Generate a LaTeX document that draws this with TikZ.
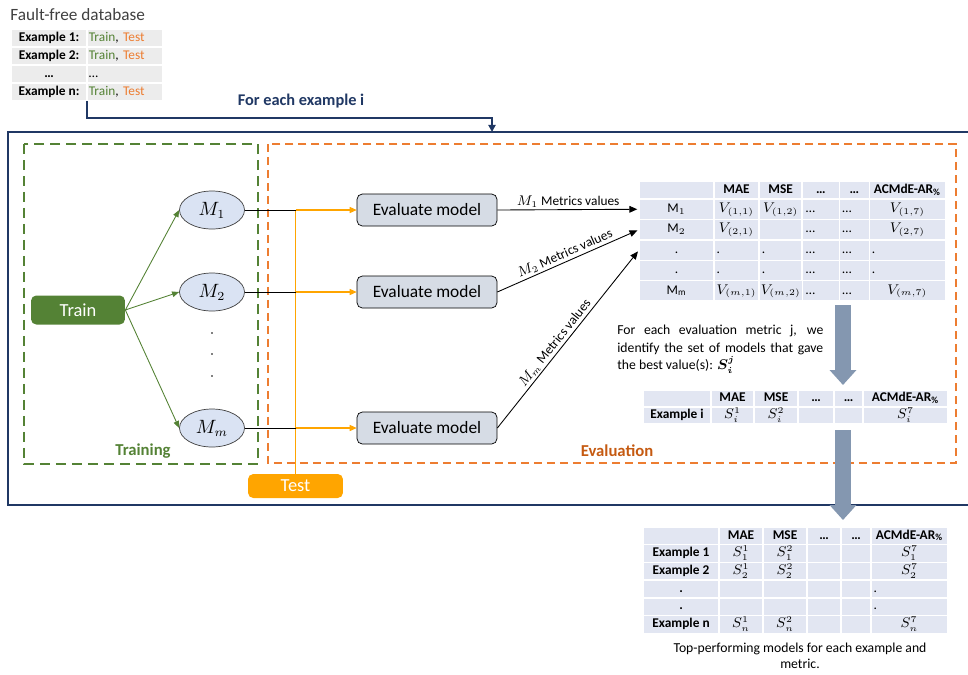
\documentclass[tikz,border=0pt]{standalone}
\usepackage{amsmath}
\usepackage{fontspec}
\setmainfont{Carlito}
\usetikzlibrary{arrows.meta,positioning,shapes.geometric,matrix}

\definecolor{loopnavy}{HTML}{203864}
\definecolor{trgreen}{HTML}{548235}
\definecolor{tsorange}{HTML}{ED7D31}
\definecolor{evalorange}{HTML}{C55A11}
\definecolor{testfill}{HTML}{FFA500}
\definecolor{modelfill}{HTML}{DAE3F3}
\definecolor{evalfill}{HTML}{D6DCE5}
\definecolor{tabfill}{HTML}{E2E6F2}
\definecolor{dbfill}{HTML}{ECECEC}
\definecolor{bigarrowc}{HTML}{8497B0}
\definecolor{darktext}{HTML}{404040}

\newcommand{\tabfont}{\fontsize{7.6}{7}\selectfont}
\newcommand{\tabbold}{\fontsize{7.6}{7}\selectfont\bfseries}

\tikzset{
  dbtitle/.style={anchor=west,inner sep=0pt,text=darktext,font=\fontsize{9.8}{12}\selectfont},
  looplabel/.style={text=loopnavy,font=\fontsize{9.3}{11}\selectfont\bfseries},
  loopArrow/.style={loopnavy,line width=1.1pt,-{Triangle[length=4pt,width=4pt]}},
  loopbox/.style={loopnavy,line width=1.1pt},
  trainzone/.style={trgreen,line width=1.5pt,dash pattern=on 0.2cm off 0.12cm},
  evalzone/.style={tsorange,line width=1.1pt,dash pattern=on 0.16cm off 0.1cm},
  zonelabel/.style={font=\fontsize{9.5}{11}\selectfont\bfseries},
  model/.style={ellipse,draw=darktext,fill=modelfill,minimum width=1.3cm,minimum height=0.76cm,inner sep=0pt,font=\fontsize{10.5}{12}\selectfont},
  evalbox/.style={draw,rounded corners=3pt,fill=evalfill,minimum width=2.8cm,minimum height=0.64cm,inner sep=0pt,font=\fontsize{9.9}{11}\selectfont},
  trainbox/.style={rounded corners=3pt,fill=trgreen,text=white,minimum width=1.88cm,minimum height=0.58cm,font=\fontsize{10.5}{12}\selectfont},
  testbox/.style={rounded corners=3pt,fill=testfill,text=white,minimum width=1.9cm,minimum height=0.48cm,font=\fontsize{10.5}{12}\selectfont},
  trainArrow/.style={trgreen,line width=0.5pt,-{Triangle[length=4pt,width=3.2pt]}},
  modelLine/.style={line width=0.45pt},
  testLine/.style={testfill,line width=0.6pt},
  testArrow/.style={testLine,-{Triangle[length=4pt,width=3.5pt]}},
  metricArrow/.style={line width=0.5pt,-{Triangle[length=4.5pt,width=3.8pt]},shorten >=1pt},
  metricLabel/.style={font=\tabfont,inner sep=1pt},
  bigArrow/.style={bigarrowc,line width=0.32cm,-{Triangle[length=0.3cm,width=0.52cm]}},
  tab/.style={matrix of nodes,nodes in empty cells,anchor=north west,inner sep=0pt,column sep=-0.8pt,row sep=-0.8pt,
    nodes={fill=tabfill,draw=white,line width=0.8pt,inner xsep=1pt,inner ysep=0.5pt,outer sep=0pt,
      text height=5.3pt,text depth=1.6pt,font=\tabfont}},
  dotl/.style={text width=#1,align=left},
  noteText/.style={anchor=north west,inner sep=0pt,text width=4.12cm,align=justify,font=\fontsize{7.8}{9.8}\selectfont},
  captionText/.style={align=center,font=\fontsize{7.8}{9}\selectfont}
}

\begin{document}
\begin{tikzpicture}[x=0.02cm,y=-0.02cm]
  \useasboundingbox (0,0) rectangle (968,674);

  \node[dbtitle] (dbname) at (10,15) {Fault-free database};
  \matrix[tab,nodes={fill=dbfill,minimum height=0.36cm},
    column 1/.style={nodes={minimum width=1.52cm,font=\tabbold}},
    column 2/.style={nodes={text width=1.45cm,align=left}}] (db) at (10,28) {
    Example 1: & \textcolor{trgreen}{Train}, \textcolor{tsorange}{Test} \\
    Example 2: & \textcolor{trgreen}{Train}, \textcolor{tsorange}{Test} \\
    \dots & \dots \\
    Example n: & \textcolor{trgreen}{Train}, \textcolor{tsorange}{Test} \\
  };

  \coordinate (loopin) at (492,132);
  \draw[loopArrow] (db-4-1.south east) -- ++(0,17) -| (loopin);
  \node[looplabel] (looptext) at (301,101) {For each example i};
  \draw[loopbox] (968,132) -- (8,132) -- (8,505) -- (968,505);

  \draw[trainzone] (24,144) rectangle (258,464);
  \draw[evalzone] (268,144) rectangle (956,463);
  \node[zonelabel,text=trgreen] (trainname) at (143,451) {Training};
  \node[zonelabel,text=evalorange] (evalname) at (617,451) {Evaluation};

  \node[trainbox] (train) at (78,310) {Train};
  \node[model] (m1) at (212,210) {$M_1$};
  \node[model] (m2) at (212,292) {$M_2$};
  \node[model] (mm) at (212,428) {$M_m$};
  \foreach \y in {333,354,376} \fill (212,\y) circle (0.55pt);
  \node[testbox] (test) at (295.5,486) {Test};
  \node[evalbox] (ev1) at (427,210) {Evaluate model};
  \node[evalbox] (ev2) at (427,292) {Evaluate model};
  \node[evalbox] (evm) at (427,428) {Evaluate model};

  \foreach \m in {m1,m2,mm} \draw[trainArrow] (train.east) -- (\m.west);
  \draw[testLine] (test.north) -- (test.north |- m1);
  \foreach \m/\e in {m1/ev1,m2/ev2,mm/evm}{
    \draw[modelLine] (\m.east) -- (\m -| test.north);
    \draw[testArrow] (\m -| test.north) -- (\e.west);
  }

  \matrix[tab,nodes={minimum height=0.408cm},
    row 1/.style={nodes={minimum height=0.36cm,font=\tabbold}},
    column 1/.style={nodes={minimum width=1.5cm}},
    column 2/.style={nodes={minimum width=0.9cm}},
    column 3/.style={nodes={minimum width=0.84cm}},
    column 4/.style={nodes={minimum width=0.74cm}},
    column 5/.style={nodes={minimum width=0.6cm}},
    column 6/.style={nodes={minimum width=1.52cm}}] (vals) at (638,180) {
     & MAE & MSE & \dots & \dots & ACMdE-AR\textsubscript{\%} \\
    $\mathrm{M}_1$ & $V_{(1,1)}$ & $V_{(1,2)}$ & |[dotl=0.6cm]|\dots & |[dotl=0.48cm]|\dots & $V_{(1,7)}$ \\
    $\mathrm{M}_2$ & $V_{(2,1)}$ & & |[dotl=0.6cm]|\dots & |[dotl=0.48cm]|\dots & $V_{(2,7)}$ \\
    . & |[dotl=0.8cm]|. & |[dotl=0.75cm]|. & |[dotl=0.6cm]|\dots & |[dotl=0.48cm]|\dots & |[dotl=1.42cm]|. \\
    . & |[dotl=0.8cm]|. & |[dotl=0.75cm]|. & |[dotl=0.6cm]|\dots & |[dotl=0.48cm]|\dots & |[dotl=1.42cm]|. \\
    $\mathrm{M}_\mathrm{m}$ & $V_{(m,1)}$ & $V_{(m,2)}$ & |[dotl=0.6cm]|\dots & |[dotl=0.48cm]|\dots & $V_{(m,7)}$ \\
  };

  \draw[metricArrow] (ev1.east) -- node[above,metricLabel] {$M_1$ Metrics values} (vals-2-1.west);
  \draw[metricArrow] (ev2.east) -- node[above,sloped,metricLabel] {$M_2$ Metrics values} (vals-3-1.west);
  \draw[metricArrow] (evm.east) -- node[above,sloped,pos=0.45,metricLabel] {$M_m$ Metrics values} (vals-4-1.west);

  \node[noteText] (note) at (617,325) {For each evaluation metric j, we\linebreak identify the set of models that gave\linebreak the best value(s): $\boldsymbol{S_i^j}$};

  \matrix[tab,nodes={minimum height=0.34cm},
    row 1/.style={nodes={font=\tabbold}},
    column 1/.style={nodes={minimum width=1.36cm,font=\tabbold}},
    column 2/.style={nodes={minimum width=0.86cm}},
    column 3/.style={nodes={minimum width=0.88cm}},
    column 4/.style={nodes={minimum width=0.72cm}},
    column 5/.style={nodes={minimum width=0.58cm}},
    column 6/.style={nodes={minimum width=1.7cm}}] (best) at (642,389) {
     & MAE & MSE & \dots & \dots & ACMdE-AR\textsubscript{\%} \\
    Example i & $S_i^1$ & $S_i^2$ & & & $S_i^7$ \\
  };

  \matrix[tab,nodes={minimum height=0.354cm},
    row 1/.style={nodes={font=\tabbold}},
    column 1/.style={nodes={minimum width=1.52cm,font=\tabbold}},
    column 2/.style={nodes={minimum width=0.88cm}},
    column 3/.style={nodes={minimum width=0.88cm}},
    column 4/.style={nodes={minimum width=0.68cm}},
    column 5/.style={nodes={minimum width=0.6cm}},
    column 6/.style={nodes={minimum width=1.54cm}}] (summary) at (642,526) {
     & MAE & MSE & \dots & \dots & ACMdE-AR\textsubscript{\%} \\
    Example 1 & $S_1^1$ & $S_1^2$ & & & $S_1^7$ \\
    Example 2 & $S_2^1$ & $S_2^2$ & & & $S_2^7$ \\
    . & & & & & |[dotl=1.44cm]|. \\
    . & & & & & |[dotl=1.44cm]|. \\
    Example n & $S_n^1$ & $S_n^2$ & & & $S_n^7$ \\
  };

  \coordinate (bigx) at (843,0);
  \draw[bigArrow,shorten <=0.06cm,shorten >=0.08cm] (vals.south -| bigx) -- (best.north -| bigx);
  \draw[bigArrow,shorten <=0.1cm,shorten >=0.12cm] (best.south -| bigx) -- (summary.north -| bigx);

  \node[captionText] (caption) at (800,656) {Top-performing models for each example and\\metric.};
\end{tikzpicture}
\end{document}
